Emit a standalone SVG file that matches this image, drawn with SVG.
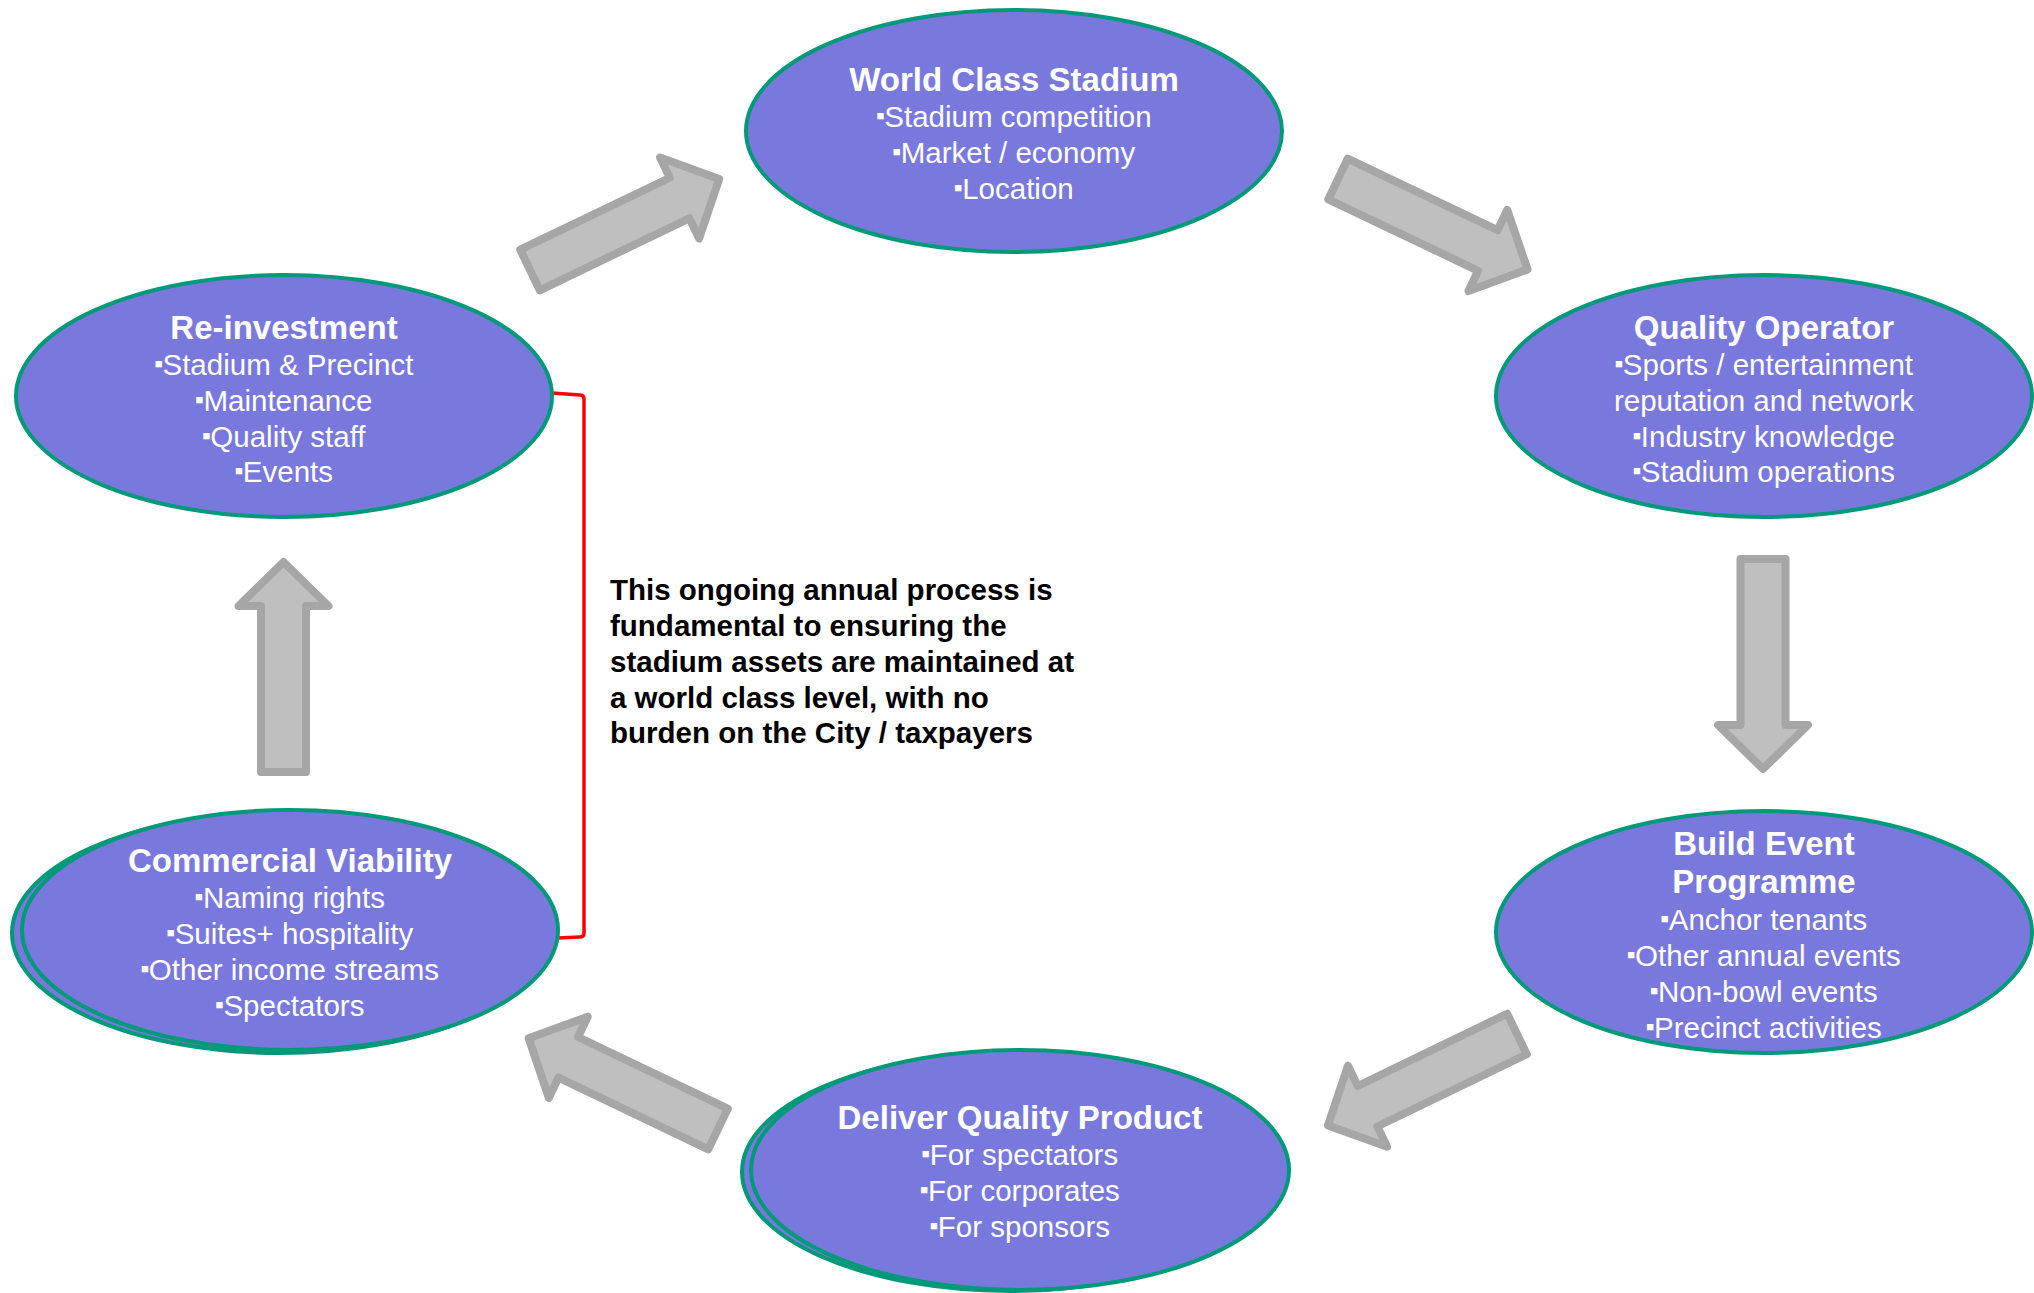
<svg xmlns="http://www.w3.org/2000/svg" xmlns:xlink="http://www.w3.org/1999/xlink" width="2034" height="1293" viewBox="0 0 2034 1293">
<style>
.node{fill:#7979DD;stroke:#009A78;stroke-width:4}
.t{font-family:"Liberation Sans",Arial,sans-serif;fill:#FFFFFF;text-anchor:middle;font-size:29.5px}
.h{font-weight:bold;font-size:33px}
.b{font-size:13px}
.arrow{fill:#BFBFBF;stroke:#A6A6A6;stroke-width:8;stroke-linejoin:round}
.note{font-family:"Liberation Sans",Arial,sans-serif;font-weight:bold;font-size:29.5px;fill:#000000}
.bracket{fill:none;stroke:#FF0000;stroke-width:3.5;stroke-linejoin:round}
</style>
<defs>
<path id="blk" d="M0,-22.5 L166,-22.5 L166,-45 L210,0 L166,45 L166,22.5 L0,22.5 Z"/>
</defs>
<rect width="2034" height="1293" fill="#FFFFFF"/>
<g id="connectors">
<use xlink:href="#blk" class="arrow" transform="translate(530,270) rotate(-25.7)"/>
<use xlink:href="#blk" class="arrow" transform="translate(1338,179) rotate(25.5)"/>
<use xlink:href="#blk" class="arrow" transform="translate(1763,559) rotate(90)"/>
<use xlink:href="#blk" class="arrow" transform="translate(1517,1034) rotate(154.2)"/>
<use xlink:href="#blk" class="arrow" transform="translate(718,1129) rotate(-154.4)"/>
<use xlink:href="#blk" class="arrow" transform="translate(283.5,772) rotate(-90)"/>
<path class="bracket" d="M552,393 L580,395 Q584,395 584,399 L584,933 Q584,937 580,937 L558,938"/>
</g>
<g id="world-class-stadium">
<ellipse class="node" cx="1014" cy="131" rx="268" ry="121"/>
<text class="t"><tspan class="h" x="1014" y="91">World Class Stadium</tspan><tspan x="1014" y="127"><tspan class="b" dy="-7">■</tspan><tspan dy="7">Stadium competition</tspan></tspan><tspan x="1014" y="163"><tspan class="b" dy="-7">■</tspan><tspan dy="7">Market / economy</tspan></tspan><tspan x="1014" y="199"><tspan class="b" dy="-7">■</tspan><tspan dy="7">Location</tspan></tspan></text>
</g>
<g id="re-investment">
<ellipse class="node" cx="284" cy="396" rx="268" ry="121"/>
<text class="t"><tspan class="h" x="284" y="339">Re-investment</tspan><tspan x="284" y="375"><tspan class="b" dy="-7">■</tspan><tspan dy="7">Stadium &amp; Precinct</tspan></tspan><tspan x="284" y="411"><tspan class="b" dy="-7">■</tspan><tspan dy="7">Maintenance</tspan></tspan><tspan x="284" y="447"><tspan class="b" dy="-7">■</tspan><tspan dy="7">Quality staff</tspan></tspan><tspan x="284" y="482"><tspan class="b" dy="-7">■</tspan><tspan dy="7">Events</tspan></tspan></text>
</g>
<g id="quality-operator">
<ellipse class="node" cx="1764" cy="396" rx="268" ry="121"/>
<text class="t"><tspan class="h" x="1764" y="339">Quality Operator</tspan><tspan x="1764" y="375"><tspan class="b" dy="-7">■</tspan><tspan dy="7">Sports / entertainment</tspan></tspan><tspan x="1764" y="411">reputation and network</tspan><tspan x="1764" y="447"><tspan class="b" dy="-7">■</tspan><tspan dy="7">Industry knowledge</tspan></tspan><tspan x="1764" y="482"><tspan class="b" dy="-7">■</tspan><tspan dy="7">Stadium operations</tspan></tspan></text>
</g>
<g id="build-event-programme">
<ellipse class="node" cx="1764" cy="932" rx="268" ry="121"/>
<text class="t"><tspan class="h" x="1764" y="855">Build Event</tspan><tspan class="h" x="1764" y="893">Programme</tspan><tspan x="1764" y="930"><tspan class="b" dy="-7">■</tspan><tspan dy="7">Anchor tenants</tspan></tspan><tspan x="1764" y="966"><tspan class="b" dy="-7">■</tspan><tspan dy="7">Other annual events</tspan></tspan><tspan x="1764" y="1002"><tspan class="b" dy="-7">■</tspan><tspan dy="7">Non-bowl events</tspan></tspan><tspan x="1764" y="1038"><tspan class="b" dy="-7">■</tspan><tspan dy="7">Precinct activities</tspan></tspan></text>
</g>
<g id="deliver-quality-product">
<ellipse class="node" cx="1010" cy="1172" rx="268" ry="119"/>
<ellipse class="node" cx="1020" cy="1170" rx="269" ry="120"/>
<text class="t"><tspan class="h" x="1020" y="1129">Deliver Quality Product</tspan><tspan x="1020" y="1165"><tspan class="b" dy="-7">■</tspan><tspan dy="7">For spectators</tspan></tspan><tspan x="1020" y="1201"><tspan class="b" dy="-7">■</tspan><tspan dy="7">For corporates</tspan></tspan><tspan x="1020" y="1237"><tspan class="b" dy="-7">■</tspan><tspan dy="7">For sponsors</tspan></tspan></text>
</g>
<g id="commercial-viability">
<ellipse class="node" cx="280" cy="933" rx="268" ry="120"/>
<ellipse class="node" cx="290" cy="930" rx="268" ry="120"/>
<text class="t"><tspan class="h" x="290" y="872">Commercial Viability</tspan><tspan x="290" y="908"><tspan class="b" dy="-7">■</tspan><tspan dy="7">Naming rights</tspan></tspan><tspan x="290" y="944"><tspan class="b" dy="-7">■</tspan><tspan dy="7">Suites+ hospitality</tspan></tspan><tspan x="290" y="980"><tspan class="b" dy="-7">■</tspan><tspan dy="7">Other income streams</tspan></tspan><tspan x="290" y="1016"><tspan class="b" dy="-7">■</tspan><tspan dy="7">Spectators</tspan></tspan></text>
</g>
<g id="note">
<text class="note"><tspan x="610" y="600">This ongoing annual process is</tspan><tspan x="610" y="636">fundamental to ensuring the</tspan><tspan x="610" y="672">stadium assets are maintained at</tspan><tspan x="610" y="708">a world class level, with no</tspan><tspan x="610" y="743">burden on the City / taxpayers</tspan></text>
</g>
</svg>
